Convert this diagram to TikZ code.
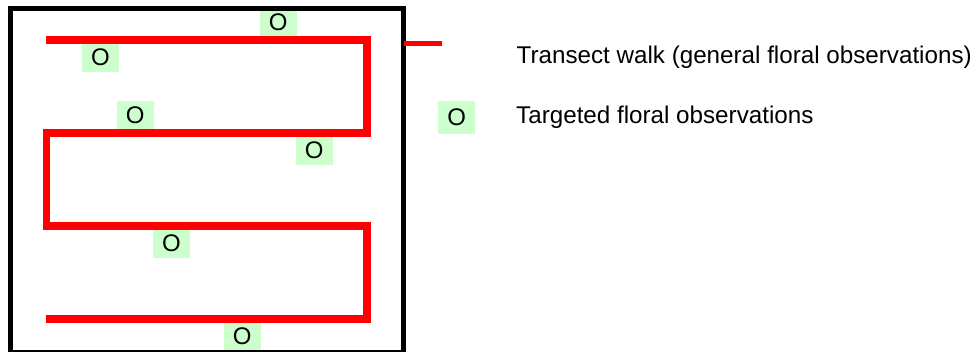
\documentclass[tikz,border=0pt]{standalone}
\usepackage{fontspec}
\setmainfont{Liberation Sans}
\definecolor{obsgreen}{HTML}{CCFFCC}
\definecolor{walkred}{HTML}{FF0000}
\begin{document}
\begin{tikzpicture}[x=1pt,y=-1pt,
  obs/.style={fill=obsgreen,draw=none,inner sep=0pt,minimum width=37pt,minimum height=28pt,font=\fontsize{24}{28}\selectfont},
  walk/.style={draw=walkred,line width=7.6pt,line join=miter},
  frame/.style={draw=black,line width=4.7pt},
  legtext/.style={anchor=base west,inner sep=0pt,font=\fontsize{24.2}{28}\selectfont}]
\useasboundingbox (0,0) rectangle (970,352);
\begin{scope}
\clip (0,0) rectangle (970,352);
% observation boxes
\node[obs] (o1) at (278.3,22) {O};
\node[obs] (o2) at (100.5,57.7) {O};
\node[obs] (o3) at (135.3,115) {O};
\node[obs] (o4) at (314.3,150.7) {O};
\node[obs] (o5) at (171.5,243.7) {O};
\node[obs] (o6) at (242.3,336.7) {O};
% frame
\draw[frame] (10.3,8.5) rectangle (403.5,352.3);
% transect walk
\draw[walk] (46,40) -- (367,40) -- (367,133) -- (46.5,133) -- (46.5,226) -- (367,226) -- (367,319) -- (46,319);
\end{scope}
% legend
\coordinate (la) at (404.3,44);
\coordinate (lb) at (442,44);
\draw[draw=walkred,line width=5pt] (la) -- (lb);
\node[legtext] (t1) at (516.5,64) {Transect walk (general floral observations)};
\node[obs,minimum height=32.7pt] (lo) at (456.7,117.3) {O};
\node[legtext] (t2) at (516,123.3) {Targeted floral observations};
\end{tikzpicture}
\end{document}
